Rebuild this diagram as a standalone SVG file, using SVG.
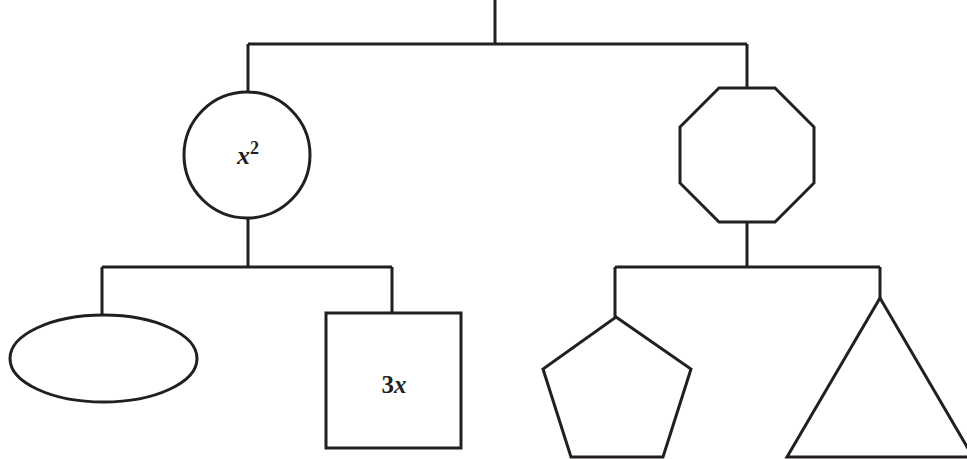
<svg xmlns="http://www.w3.org/2000/svg" width="967" height="459" viewBox="0 0 967 459">
<style>
.s{fill:#fff;stroke:#231f20;stroke-width:3;stroke-linejoin:miter}
.c{fill:none;stroke:#231f20;stroke-width:3}
.t{font-family:"Liberation Serif",serif;font-weight:bold;font-size:25px;fill:#231f20;text-anchor:middle}
</style>
<rect width="967" height="459" fill="#fff"/>
<g id="connectors">
<path class="c" d="M495 0V44M248 44H747M248 44V91M747 44V88"/>
<path class="c" d="M248 218V267M102 267H392M102 267V315M392 267V313"/>
<path class="c" d="M747 222V267M615 267H880M615 267V317M880 267V298"/>
</g>
<g id="root-circle">
<circle class="s" cx="247" cy="155" r="63"/>
<text class="t" x="248" y="164"><tspan font-style="italic" font-size="26">x</tspan><tspan font-size="18" dy="-10">2</tspan></text>
</g>
<g id="octagon">
<polygon class="s" points="719,88 775,88 814,127 814,183 775,222 719,222 680,183 680,127"/>
</g>
<g id="ellipse">
<ellipse class="s" cx="103.5" cy="358.5" rx="93.5" ry="43.5"/>
</g>
<g id="square">
<rect class="s" x="326" y="313" width="135" height="135"/>
<text class="t" x="394" y="393" font-size="26">3<tspan font-style="italic">x</tspan></text>
</g>
<g id="pentagon">
<polygon class="s" points="616,317 691,369 663,457 571,457 543,369"/>
</g>
<g id="triangle">
<polygon class="s" points="880,298 973,457 787,457"/>
</g>
</svg>
